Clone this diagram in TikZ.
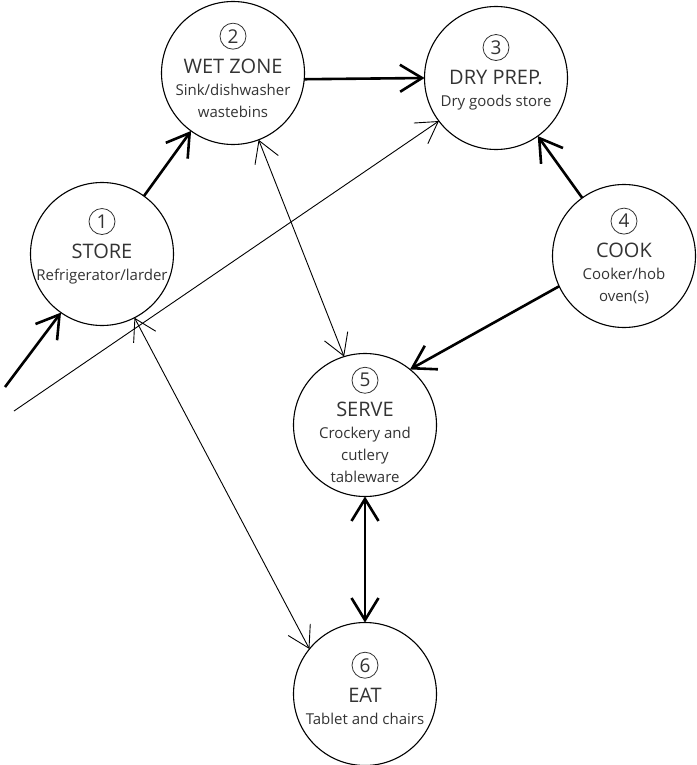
\documentclass[tikz,border=0pt]{standalone}
\usepackage{fontspec}
\setmainfont{Open Sans}
\usetikzlibrary{arrows.meta,positioning}
\tikzset{
  heavytip/.tip={Straight Barb[length=22pt,width=27pt]},
  lighttip/.tip={Straight Barb[length=21pt,width=25pt]},
  zone/.style={circle, draw, line width=1.1pt, minimum size=143pt, inner sep=0pt, outer sep=0pt},
  zonetext/.style={align=center, text=black!80, font=\fontsize{15}{22}\selectfont},
  heavy/.style={line width=2.6pt, -heavytip},
  light/.style={line width=0.9pt, -lighttip},
}
\newcommand{\zonenum}[1]{\tikz[baseline=(z.base)]\node[circle, draw, line width=0.8pt, inner sep=0pt, minimum size=26pt, font=\fontsize{19}{19}\selectfont] (z) {#1};}
\newcommand{\zonetitle}[1]{{\fontsize{20}{22}\selectfont #1}}
\begin{document}
\begin{tikzpicture}[x=1pt, y=-1pt]
  \useasboundingbox (0,0) rectangle (696,765);
  % zones
  \node [zone, label={[zonetext, yshift=8pt]center:{\zonenum{1}\\[8pt] \zonetitle{STORE}\\ Refrigerator/larder}}] (store) at (102,254) {};
  \node [zone, label={[zonetext, yshift=3pt]center:{\zonenum{2}\\[8pt] \zonetitle{WET ZONE}\\ Sink/dishwasher\\ wastebins}}] (wet) at (233,73) {};
  \node [zone, label={[zonetext, yshift=6pt]center:{\zonenum{3}\\[8pt] \zonetitle{DRY PREP.}\\ Dry goods store}}] (dry) at (496,78) {};
  \node [zone, label={[zonetext]center:{\zonenum{4}\\[8pt] \zonetitle{COOK}\\ Cooker/hob\\ oven(s)}}] (cook) at (624,256) {};
  \node [zone, label={[zonetext]center:{\zonenum{5}\\[8pt] \zonetitle{SERVE}\\ Crockery and\\ cutlery\\ tableware}}] (serve) at (365,425) {};
  \node [zone, label={[zonetext, yshift=6pt]center:{\zonenum{6}\\[8pt] \zonetitle{EAT}\\ Tablet and chairs}}] (eat) at (365,694) {};
  \coordinate (entry) at (5,387);
  \coordinate (goods) at (14,411);
  % flows
  \draw [heavy] (entry) -- (store.235);
  \draw [heavy] (store) -- (wet);
  \draw [heavy] (wet.355) -- (dry.west);
  \draw [heavy] (cook) -- (dry);
  \draw [heavy] (cook.205) -- (serve.51);
  \draw [heavy, heavytip-heavytip] (serve) -- (eat);
  \draw [light] (goods) -- (dry.217);
  \draw [light, lighttip-lighttip] (wet.291) -- (serve.107);
  \draw [light, lighttip-lighttip] (store.297) -- (eat.141);
\end{tikzpicture}
\end{document}
